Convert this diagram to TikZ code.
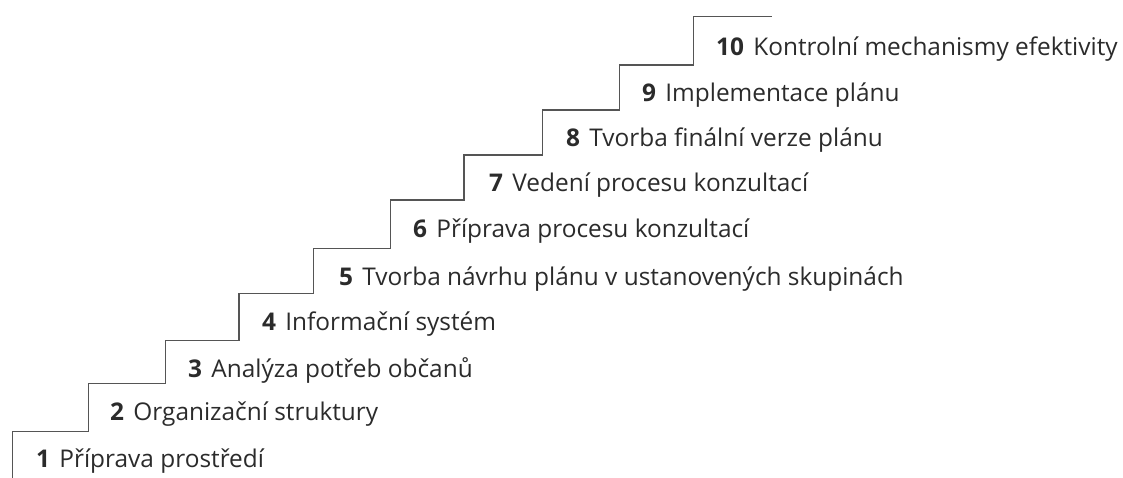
\documentclass[tikz,border=0pt]{standalone}
\usepackage{fontspec}
\setmainfont{Open Sans}
\definecolor{stairgray}{HTML}{555555}
\definecolor{txtgray}{HTML}{2B2B2B}
\begin{document}
\begin{tikzpicture}[x=1pt,y=-1pt,
  stair/.style={draw=stairgray, line width=1.3pt},
  lbl/.style={anchor=base west, inner sep=0pt, text=txtgray, font=\fontsize{24.4}{28}\selectfont}]
\useasboundingbox (0,0) rectangle (1123,478);
\draw[stair] (12.5,478) |- (88.3,431.7) |- (165.7,383.7) |- (239,340.5) |- (313.3,293.3)
  |- (390.7,248.3) |- (464,200) |- (542.3,155) |- (619.3,110) |- (693.3,65) |- (772.3,16.7);
\newcommand{\stp}[2]{\textbf{#1}\hspace{0.38em}#2}
\node[lbl] (s1) at (36,467.5) {\stp{1}{Příprava prostředí}};
\node[lbl] (s2) at (110,420.5) {\stp{2}{Organizační struktury}};
\node[lbl] (s3) at (188,377.5) {\stp{3}{Analýza potřeb občanů}};
\node[lbl] (s4) at (262,330.3) {\stp{4}{Informační systém}};
\node[lbl] (s5) at (339,285.3) {\stp{5}{Tvorba návrhu plánu v ustanovených skupinách}};
\node[lbl] (s6) at (413,237) {\stp{6}{Příprava procesu konzultací}};
\node[lbl] (s7) at (489,192) {\stp{7}{Vedení procesu konzultací}};
\node[lbl] (s8) at (566,147) {\stp{8}{Tvorba finální verze plánu}};
\node[lbl] (s9) at (642,102) {\stp{9}{Implementace plánu}};
\node[lbl] (s10) at (716,56) {\stp{10}{Kontrolní mechanismy efektivity}};
\end{tikzpicture}
\end{document}
